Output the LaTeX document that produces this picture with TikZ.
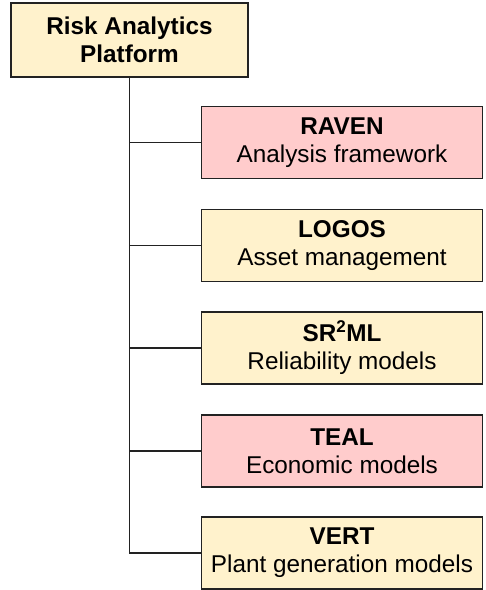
\documentclass[tikz,border=0pt]{standalone}
\usepackage{fontspec}
\setmainfont{Liberation Sans}
\usepackage{tikz}
\usetikzlibrary{calc}

\definecolor{boxyellow}{HTML}{FFF2CC}
\definecolor{boxpink}{HTML}{FFCCCC}
\definecolor{boxline}{HTML}{222222}

\tikzset{
  toolbox/.style={draw=boxline, line width=1.4pt, fill=boxyellow, align=center,
    inner sep=0pt, minimum width=281pt, minimum height=72pt,
    font=\fontsize{24.3}{28}\selectfont},
  rootbox/.style={toolbox, minimum width=237pt, minimum height=74pt},
  hotbox/.style={toolbox, fill=boxpink},
  branch/.style={draw=boxline, line width=1.3pt}
}

\begin{document}
\begin{tikzpicture}[x=1pt, y=-1pt]
\useasboundingbox (0,0) rectangle (486,590);

\node (root) at (129.5,40) [rootbox] {\textbf{Risk Analytics}\\\textbf{Platform}};

\coordinate (C1) at (342,142.5); \coordinate (C2) at (342,245.5);
\coordinate (C3) at (342,348); \coordinate (C4) at (342,451);
\coordinate (C5) at (342,553);
\node (raven) at (C1) [hotbox] {\textbf{RAVEN}\\Analysis framework};
\node (logos) at (C2) [toolbox] {\textbf{LOGOS}\\Asset management};
\node (srml) at (C3) [toolbox] {\textbf{SR\textsuperscript{2}ML}\\Reliability models};
\node (teal) at (C4) [hotbox] {\textbf{TEAL}\\Economic models};
\node (vert) at (C5) [toolbox] {\textbf{VERT}\\Plant generation models};

\draw [branch] (root.south) |- (raven.west);
\draw [branch] (root.south) |- (logos.west);
\draw [branch] (root.south) |- (srml.west);
\draw [branch] (root.south) |- (teal.west);
\draw [branch] (root.south) |- (vert.west);

\end{tikzpicture}
\end{document}
